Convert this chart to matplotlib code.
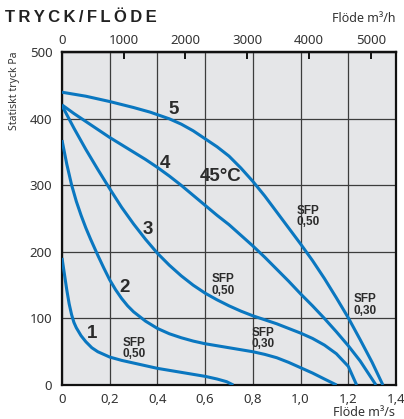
import matplotlib
matplotlib.use("Agg")
import matplotlib.pyplot as plt

# Kurvor (flöde m3/s, statiskt tryck Pa)
x1 = [0, 0.01, 0.02, 0.03, 0.04, 0.05, 0.06, 0.08, 0.1, 0.125, 0.15, 0.2, 0.25, 0.3,
      0.35, 0.4, 0.45, 0.5, 0.55, 0.6, 0.65, 0.69, 0.718]
y1 = [191, 167, 143, 122, 106, 94, 86, 74, 65, 56, 50, 42, 37, 33,
      29, 25, 22, 19, 16, 13, 9, 5, 0]

x2 = [0, 0.02, 0.04, 0.06, 0.08, 0.1, 0.12, 0.15, 0.175, 0.2, 0.225, 0.25, 0.275, 0.3,
      0.35, 0.4, 0.45, 0.5, 0.55, 0.6, 0.7, 0.8, 0.85, 0.9, 0.95, 1.0, 1.05, 1.1, 1.151]
y2 = [368, 332, 301, 276, 255, 236, 219, 195, 176, 158, 143, 130, 119, 110,
      96, 85, 77, 71, 66, 62, 56, 50, 46, 41, 34, 26, 18, 9, 0]

x3 = [0, 0.05, 0.1, 0.15, 0.2, 0.25, 0.3, 0.35, 0.4, 0.45, 0.5, 0.55, 0.6, 0.65,
      0.7, 0.75, 0.8, 0.85, 0.9, 0.95, 1.0, 1.05, 1.1, 1.15, 1.2, 1.235]
y3 = [420, 386, 354, 324, 295, 267, 242, 219, 198, 180, 164, 150, 138, 128,
      119, 111, 104, 98, 92, 85, 78, 70, 60, 47, 28, 0]

x4 = [0, 0.05, 0.1, 0.15, 0.2, 0.25, 0.3, 0.35, 0.4, 0.45, 0.5, 0.55, 0.6, 0.65,
      0.7, 0.75, 0.8, 0.85, 0.9, 0.95, 1.0, 1.05, 1.1, 1.15, 1.2, 1.25, 1.316]
y4 = [421, 408, 396, 384, 372, 361, 350, 339, 327, 314, 300, 285, 270, 255,
      241, 225, 209, 192, 174, 156, 137, 119, 100, 80, 59, 36, 0]

x5 = [0, 0.1, 0.2, 0.3, 0.37, 0.45, 0.5, 0.55, 0.6, 0.65, 0.7, 0.75, 0.8, 0.85,
      0.9, 0.95, 1.0, 1.05, 1.1, 1.15, 1.2, 1.25, 1.3, 1.345]
y5 = [440, 434, 426, 417, 410, 400, 392, 382, 370, 358, 344, 326, 306, 284,
      260, 236, 212, 187, 160, 131, 101, 68, 34, 0]

kurvor = [(x1, y1), (x2, y2), (x3, y3), (x4, y4), (x5, y5)]

x_ticks = [0, 0.2, 0.4, 0.6, 0.8, 1.0, 1.2, 1.4]
x_labels = ["0", "0,2", "0,4", "0,6", "0,8", "1,0", "1,2", "1,4"]
y_ticks = [0, 100, 200, 300, 400, 500]
top_ticks = [0, 1000, 2000, 3000, 4000, 5000]

# kurvnummer och SFP-etiketter
nr_text = ["1", "2", "3", "4", "5"]
nr_x = [0.124, 0.261, 0.358, 0.432, 0.466]
nr_y = [77, 147, 233, 333, 414]
sfp_text = ["SFP\n0,50", "SFP\n0,50", "SFP\n0,30", "SFP\n0,50", "SFP\n0,30"]
sfp_x = [0.302, 0.674, 0.844, 1.032, 1.27]
sfp_y = [55, 150, 70, 253, 120]

blue = "#0a77c0"
txt = "#2b2b2b"
font = "Noto Sans"
bold = "Liberation Sans"

fig = plt.figure(figsize=(4.04, 4.19), dpi=100)
ax = fig.add_axes([62 / 404, 34 / 419, 334 / 404, 332.7 / 419])
ax.set_facecolor("#e5e6e8")

for xs, ys in kurvor:
    ax.plot(xs, ys, color=blue, lw=2.2, solid_joinstyle="round", solid_capstyle="butt", zorder=3)

ax.set_xlim(0, 1.4)
ax.set_ylim(0, 500)
ax.set_xticks(x_ticks)
ax.set_xticklabels(x_labels)
ax.set_yticks(y_ticks)
ax.tick_params(axis="both", length=0, labelsize=9.5, labelcolor="#333333")
ax.tick_params(axis="x", pad=6)
ax.tick_params(axis="y", pad=7)
for lab in ax.get_xticklabels() + ax.get_yticklabels():
    lab.set_family(font)
ax.grid(True, color="#3c3c3c", lw=0.9)
ax.set_axisbelow(True)
for s in ax.spines.values():
    s.set_linewidth(1.6)
    s.set_color("#111111")

# övre axel i m3/h
sec = ax.secondary_xaxis("top", functions=(lambda v: v * 3864, lambda v: v / 3864))
sec.set_xticks(top_ticks)
sec.tick_params(direction="in", length=5, width=1.4, color="#111111", labelsize=9.5,
                labelcolor="#333333", pad=4)
for lab in sec.get_xticklabels():
    lab.set_family(font)
sec.spines["top"].set_linewidth(1.6)

for t, x, y in zip(nr_text, nr_x, nr_y):
    ax.text(x, y, t, ha="center", va="center", fontsize=13.5, fontweight="bold",
            color=txt, family=bold, zorder=4)
ax.text(0.666, 313, "45°C", ha="center", va="center", fontsize=13.5, fontweight="bold",
        color=txt, family=bold, zorder=4)
for t, x, y in zip(sfp_text, sfp_x, sfp_y):
    ax.text(x, y, t, ha="center", va="center", fontsize=8.5, fontweight="bold",
            color=txt, family=bold, linespacing=0.95, zorder=4)

fig.text(5 / 404, 1 - 17 / 419, "T\u2009R\u2009Y\u2009C\u2009K\u2009/\u2009F\u2009L\u2009Ö\u2009D\u2009E",
         ha="left", va="center", fontsize=12, fontweight="bold", color="#222222",
         family=[bold, "DejaVu Sans"])
fig.text(395 / 404, 1 - 19 / 419, "Flöde m³/h", ha="right", va="center", fontsize=9,
         color="#333333", family=font)
fig.text(395 / 404, 0.0, "Flöde m³/s", ha="right", va="bottom", fontsize=9,
         color="#333333", family=font)
fig.text(14 / 404, 1 - 91 / 419, "Statiskt tryck Pa", rotation=90, ha="center", va="center",
         fontsize=7.5, color="#333333", family=font)

fig.savefig("out.png", dpi=100)
